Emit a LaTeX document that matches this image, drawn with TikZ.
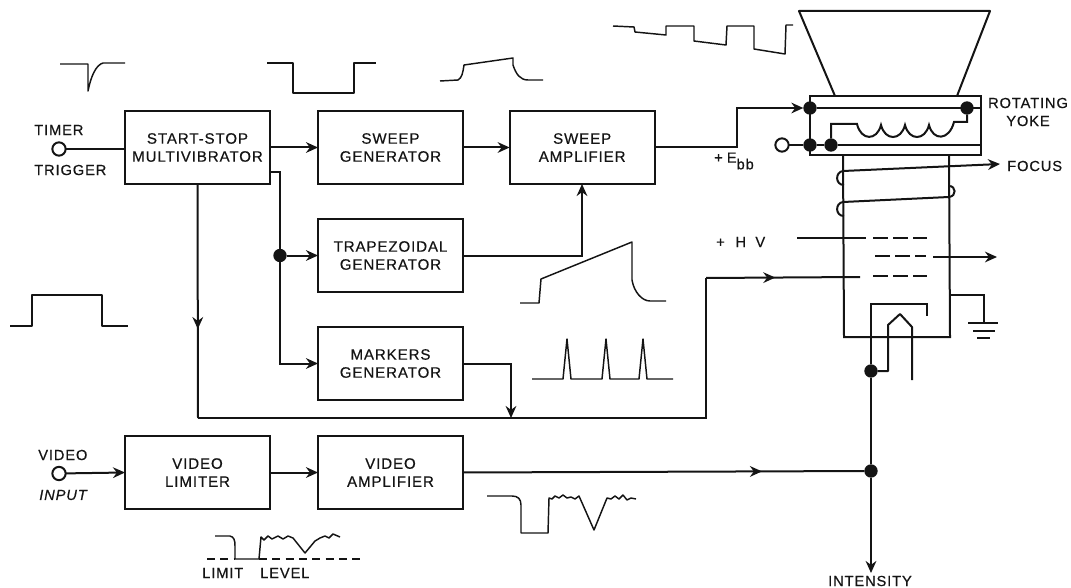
\documentclass[tikz,border=0pt]{standalone}
\usepackage{fontspec}
\setmainfont{Liberation Sans}[LetterSpace=6,FakeBold=0.5]
\usetikzlibrary{arrows.meta,positioning,decorations.markings}
\definecolor{inkclr}{RGB}{20,20,20}
\tikzset{
  blk/.style={rectangle,draw=inkclr,line width=1.6pt,minimum width=108.75pt,
    minimum height=54.75pt,font=\fontsize{11.3}{13.5}\selectfont,align=center,
    text=inkclr,inner sep=0pt,outer sep=0pt},
  ln/.style={draw=inkclr,line width=1.5pt},
  arr/.style={ln,-{Stealth[length=9pt,width=8pt]}},
  marr/.style={ln,postaction={decorate},decoration={markings,
    mark=at position #1 with {\arrow{Stealth[length=9pt,width=8pt]}}}},
  wav/.style={draw=inkclr,line width=1.1pt,line join=round},
  dsh/.style={ln,dash pattern=on 11pt off 4pt},
  dot/.style={circle,fill=inkclr,minimum size=10pt,inner sep=0pt,outer sep=0pt},
  term/.style={circle,draw=inkclr,line width=1.5pt,fill=white,minimum size=10pt,
    inner sep=0pt,outer sep=0pt},
  lbl/.style={font=\fontsize{11}{13}\selectfont,text=inkclr,align=center,inner sep=0pt},
}
\begin{document}
\begin{tikzpicture}[x=0.75pt,y=-0.75pt,node distance=26.25pt and 36pt]
  \useasboundingbox (0,0) rectangle (1071,588);
  \node[blk,anchor=north west] (ssm) at (125,111) {START-STOP\\MULTIVIBRATOR};
  \node[blk,right=of ssm] (sgen) {SWEEP\\GENERATOR};
  \node[blk,right=35pt of sgen] (samp) {SWEEP\\AMPLIFIER};
  \node[blk,below=of sgen] (tgen) {TRAPEZOIDAL\\GENERATOR};
  \node[blk,below=of tgen] (mgen) {MARKERS\\GENERATOR};
  \node[blk,below=27pt of mgen] (vamp) {VIDEO\\AMPLIFIER};
  \node[blk,left=of vamp] (vlim) {VIDEO\\LIMITER};

  \node[term] (tim) at (59,149) {};
  \node[term] (vin) at (59,473.5) {};
  \node[lbl,anchor=west] at (34,130) {TIMER};
  \node[lbl,anchor=west] at (34,170) {TRIGGER};
  \node[lbl,anchor=west] at (38,455) {VIDEO};
  \node[lbl,anchor=west] at (39,495) {\itshape INPUT};

  \node[dot,at={([xshift=-28.5pt]tgen.west)}] (dtr) {};
  \coordinate (fba) at (198,418);
  \coordinate (fbb) at (706,418);
  \coordinate (fbc) at (706,278);
  \coordinate (grc) at (860,277);
  \coordinate (fbm) at (511,418);
  \draw[ln] (tim) -- (tim -| ssm.west);
  \draw[arr] (ssm.east) -- (sgen.west);
  \draw[arr] (sgen.east) -- (samp.west);
  \draw[ln] ([yshift=9pt]ssm.south east) -| (dtr);
  \draw[arr] (dtr) -- (tgen.west);
  \draw[arr] (dtr) |- (mgen.west);
  \draw[arr] (tgen.east) -| (samp.south -| 582,0);
  \draw[arr] (mgen.east) -| (fbm);
  \draw[marr=0.62] (ssm.south) -- (fba);
  \draw[ln] (fba) -- (fbb) -- (fbc);
  \draw[marr=0.45] (fbc) -- (grc);
  \draw[arr] (vin) -- (vlim.west);
  \draw[arr] (vlim.east) -- (vamp.west);

  \node[rectangle,ln,minimum width=128.25pt,minimum height=44.25pt,inner sep=0pt,
    outer sep=0pt] (yoke) at (895.5,125.5) {};
  \draw[ln,line join=round] (835,96) -- (799,11) -- (990,11) -- (957,96);
  \draw[ln] (843,155) -- (844,337) -- (950,337) -- (949,155);
  \node[dot] (dya) at (810,108) {};
  \node[dot] (dyb) at (967,108) {};
  \node[dot] (dyc) at (810,145) {};
  \node[dot] (dyd) at (831,145) {};
  \node[term] (ypl) at (782,145) {};
  \coordinate (ebb) at (737,147.5);
  \coordinate (ebt) at (737,108);
  \draw[arr] (samp.east) -- (ebb) -- (ebt) -- (dya);
  \draw[ln] (dya) -- (dyc);
  \draw[ln] (dya) -- (yoke.east |- dya);
  \draw[ln] (ypl) -- (dyc) -- (dyd) -- (yoke.east |- dyd);
  \draw[ln] (dyd) -- (831,124) -- (857,124)
    .. controls (861,141) and (877,141) .. (881,125)
    .. controls (885,141) and (901,141) .. (905,125)
    .. controls (909,141) and (925,141) .. (929,125)
    .. controls (933,141) and (949,141) .. (954,122)
    -- (967,122) -- (dyb);
  \node[lbl] (rot) at (1028,103) {ROTATING};
  \node[lbl] at (1028,121) {YOKE};
  \node[lbl,anchor=west] (foc) at (1007,166) {FOCUS};
  \node[lbl,anchor=west] at (714,161) {+\hspace{3pt}E\raisebox{-5pt}{bb}};
  \node[lbl,anchor=west] (hv) at (716,242) {+\hspace{8pt}H\hspace{7pt}V};
  \node[lbl] at (870,581) {INTENSITY};

  \draw[arr] (843,171) -- (1000,164);
  \draw[ln] (843,171) .. controls (835,172) and (835,185) .. (844,185);
  \draw[ln] (843,202) -- (949,197) .. controls (957,196) and (956,186) .. (949,186);
  \draw[ln] (843,202) .. controls (835,203) and (835,216) .. (844,216);
  \draw[ln] (797,238) -- (866,238);
  \draw[dsh] (873,238) -- (927,238);
  \draw[dsh] (875,256) -- (926,256);
  \draw[arr] (933,257) -- (997,257);
  \draw[dsh] (873,276) -- (927,276);

  \node[dot] (dhk) at (871,371) {};
  \node[dot] (dvd) at (871,471) {};
  \coordinate (int) at (871,573);
  \draw[marr=0.745] (vamp.east) -- (dvd);
  \draw[arr] (dvd) -- (int);
  \draw[ln] (dvd) -- (dhk) -- (871,304) -- (927,304) -- (927,316);
  \draw[ln,line join=round] (dhk) -- (888,371) -- (888,325) -- (900,314) -- (912,327) -- (912,380);
  \draw[ln] (949,295) -- (984,295) -- (984,323);
  \draw[ln] (968,323) -- (998,323);
  \draw[ln] (973,331) -- (995,331);
  \draw[ln] (977,338) -- (990,338);

  \draw[wav] (60,64) -- (88,64) -- (88,91) .. controls (91,76) and (96,65) .. (103,63) -- (125,63);
  \draw[wav] (267,63) -- (293,63) -- (293,93) -- (354,93) -- (354,63) -- (376,63);
  \draw[wav] (440,81) -- (458,80) .. controls (462,78) and (463,72) .. (464,65) -- (513,58) -- (513,65) .. controls (516,74) and (520,80) .. (528,80) -- (543,80);
  \draw[wav] (613,26) -- (634,27) -- (635,32) -- (666,35) -- (666,26) -- (694,26) -- (694,41) -- (726,45) -- (727,26) -- (754,26) -- (754,49) -- (785,54) -- (786,25) -- (793,25);
  \draw[wav] (10,326) -- (32,326) -- (32,295) -- (102,295) -- (102,326) -- (128,326);
  \draw[wav] (520,303) -- (539,303) -- (541,279) -- (632,242) -- (632,280) .. controls (634,292) and (642,301) .. (650,301) -- (666,301);
  \draw[wav] (532,379) -- (563,379) -- (567,339) -- (571,379) -- (602,379) -- (606,339) -- (610,379) -- (639,379) -- (643,339) -- (647,379) -- (673,379);
  \draw[wav] (487,496) -- (512,496) .. controls (518,496) and (521,499) .. (521,505) -- (521,533) -- (548,533) -- (549,498) -- (552,499) -- (555,496) -- (559,498) -- (563,495) -- (567,498) -- (571,497) -- (575,499) -- (579,496) -- (594,530) -- (607,498) -- (611,499) -- (615,496) -- (619,499) -- (623,495) -- (627,500) -- (631,498) -- (636,499);
  \draw[wav] (215,536) -- (230,536) .. controls (234,537) and (235,540) .. (235,546) -- (235,559) -- (259,559) -- (261,537) -- (264,540) -- (268,536) -- (272,539) -- (278,536) -- (283,539) -- (288,536) -- (293,538) -- (305,553) -- (315,541) -- (320,538) -- (325,536) -- (329,538) -- (333,534) -- (340,537);
  \draw[wav,dash pattern=on 6pt off 4pt] (207,559) -- (235,559);
  \draw[wav,dash pattern=on 6pt off 4pt] (259,559) -- (360,559);
  \node[lbl,anchor=west] at (202,573) {LIMIT};
  \node[lbl,anchor=west] at (260,573) {LEVEL};
\end{tikzpicture}
\end{document}
